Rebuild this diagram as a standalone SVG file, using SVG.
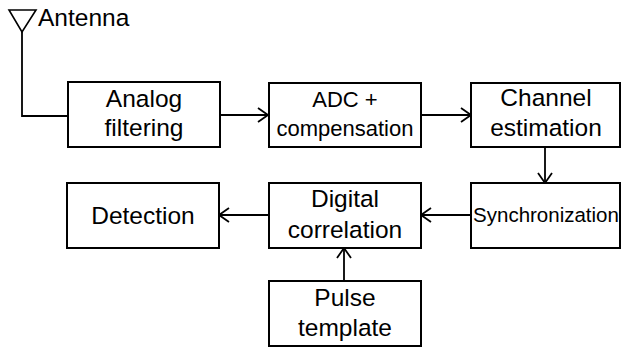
<svg xmlns="http://www.w3.org/2000/svg" width="622" height="349" viewBox="0 0 622 349">
<style>
.box{fill:#fff;stroke:#000;stroke-width:2}
.t{font-family:"Liberation Sans",Arial,sans-serif;font-size:24.5px;fill:#000;text-anchor:middle}
.s{font-size:22px}
.xs{font-size:20.5px}
.c{fill:none;stroke:#000;stroke-width:1.8}
</style>
<defs>
<marker id="ah" markerUnits="userSpaceOnUse" markerWidth="20" markerHeight="20" refX="11" refY="8" orient="auto" viewBox="0 0 20 16">
<path d="M1,1 L11,8 L1,15" fill="none" stroke="#000" stroke-width="1.8"/>
</marker>
</defs>
<g id="antenna">
<path d="M9,10 L36,10 L22,32 Z" fill="none" stroke="#000" stroke-width="1.6"/>
<text x="38" y="26" class="t" style="text-anchor:start">Antenna</text>
</g>
<g id="connectors">
<path class="c" d="M22,32 V116 H68"/>
<path class="c" d="M220,115 H268" marker-end="url(#ah)"/>
<path class="c" d="M421,115 H471" marker-end="url(#ah)"/>
<path class="c" d="M545,147 V183" marker-end="url(#ah)"/>
<path class="c" d="M471,215 H421" marker-end="url(#ah)"/>
<path class="c" d="M269,215 H219" marker-end="url(#ah)"/>
<path class="c" d="M344,281 V248" marker-end="url(#ah)"/>
</g>
<g id="analog">
<rect class="box" x="68" y="82" width="152" height="65"/>
<text class="t" x="144" y="107">Analog</text>
<text class="t" x="144" y="136">filtering</text>
</g>
<g id="adc">
<rect class="box" x="269" y="83" width="152" height="64"/>
<text class="t s" x="345" y="107">ADC +</text>
<text class="t s" x="345" y="136">compensation</text>
</g>
<g id="channel">
<rect class="box" x="471" y="83" width="149" height="64"/>
<text class="t" x="546" y="106">Channel</text>
<text class="t" x="546" y="136">estimation</text>
</g>
<g id="sync">
<rect class="box" x="471" y="183" width="149" height="65"/>
<text class="t xs" x="546" y="222">Synchronization</text>
</g>
<g id="digital">
<rect class="box" x="269" y="183" width="152" height="65"/>
<text class="t" x="345" y="207">Digital</text>
<text class="t" x="345" y="238">correlation</text>
</g>
<g id="detection">
<rect class="box" x="67" y="183" width="152" height="65"/>
<text class="t" x="143" y="224">Detection</text>
</g>
<g id="pulse">
<rect class="box" x="269" y="281" width="152" height="65"/>
<text class="t" x="345" y="306">Pulse</text>
<text class="t" x="345" y="336">template</text>
</g>
</svg>
